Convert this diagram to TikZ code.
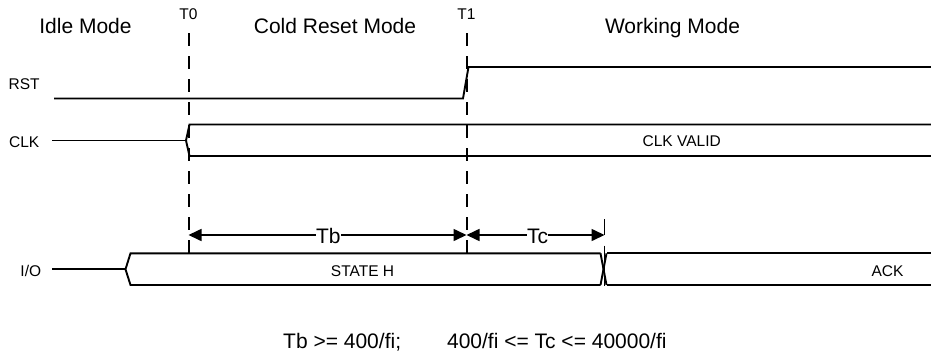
\documentclass[tikz,border=0pt]{standalone}
\usepackage{fontspec}
\setmainfont{Liberation Sans}[Ligatures=NoCommon]
\usetikzlibrary{arrows.meta}
\begin{document}
\begin{tikzpicture}[x=1pt,y=-1pt,
  sig/.style={line width=1.9pt, line join=miter},
  gridline/.style={line width=2pt, dash pattern=on 13pt off 10pt},
  dimline/.style={line width=1.6pt, {Triangle[length=13pt,width=12pt]}-{Triangle[length=13pt,width=12pt]}},
  title/.style={font=\fontsize{21}{25}\selectfont, anchor=base, inner sep=0pt},
  lbl/.style={font=\fontsize{15.5}{18}\selectfont, anchor=base, inner sep=0pt},
  dimlbl/.style={font=\fontsize{21}{25}\selectfont, anchor=base, fill=white, inner xsep=0pt, inner ysep=0.5pt}
]
\useasboundingbox (0,0) rectangle (931,356);

% titles
\node[title] (idle) at (85.5,33.5) {Idle Mode};
\node[title] (cold) at (335,33.5) {Cold Reset Mode};
\node[title] (work) at (672.5,33.5) {Working Mode};
\node[lbl] (t0) at (188.5,19) {T0};
\node[lbl] (t1) at (466.5,19) {T1};

% signal names
\node[lbl] (rst) at (24.2,89.3) {RST};
\node[lbl] (clk) at (24.2,147.5) {CLK};
\node[lbl] (io) at (30.8,276.5) {I/O};

% key coordinates
\coordinate (T0top) at (188.5,33);
\coordinate (T0bot) at (188.5,253.3);
\coordinate (T1top) at (466.5,33);
\coordinate (T1bot) at (466.5,253.3);
\coordinate (Tcend) at (604.5,235);
\coordinate (Tbstart) at (188.5,235);
\coordinate (Tmid) at (466.5,235);

% dashed time markers
\draw[gridline] (T0top) -- (T0bot);
\draw[gridline] (T1top) -- (T1bot);

% RST
\coordinate (rstA) at (54,98.5);
\coordinate (rstB) at (463,98.5);
\coordinate (rstC) at (468.5,67);
\coordinate (rstD) at (931,67);
\draw[sig] (rstA) -- (rstB) -- (rstC) -- (rstD);

% CLK
\coordinate (clkA) at (52,140.5);
\coordinate (clkP) at (186,140.5);
\coordinate (clkT) at (189.5,124.5);
\coordinate (clkB) at (189.5,156);
\coordinate (clkTR) at (931,124.5);
\coordinate (clkBR) at (931,156);
\draw[sig] (clkA) -- (clkP);
\draw[sig] (clkTR) -- (clkT) -- (clkP) -- (clkB) -- (clkBR);
\node[lbl] (clkvalid) at (681.7,146.5) {CLK VALID};

% I/O
\coordinate (ioA) at (52,269.3);
\coordinate (ioP) at (125.5,269.3);
\coordinate (ioT) at (130.5,253.3);
\coordinate (ioB) at (130.5,285);
\coordinate (xTL) at (600.5,253.3);
\coordinate (xBL) at (600.5,285);
\coordinate (xTR) at (606.5,253.3);
\coordinate (xBR) at (606.5,285);
\coordinate (ioTR) at (931,253.3);
\coordinate (ioBR) at (931,285);
\draw[sig] (ioA) -- (ioP);
\draw[sig] (xTL) -- (ioT) -- (ioP) -- (ioB) -- (xBL);
\draw[sig] (xTL) -- (xBR);
\draw[sig] (xBL) -- (xTR);
\draw[sig] (ioTR) -- (xTR);
\draw[sig] (ioBR) -- (xBR);
\node[lbl] (stateh) at (362.5,276.5) {STATE H};
\node[lbl] (ack) at (887.5,276.5) {ACK};

% Tc end marker
\coordinate (mk1) at (604.5,219);
\coordinate (mk2) at (604.5,235);
\coordinate (mk3) at (604.5,245.5);
\coordinate (mk4) at (604.5,285.5);
\draw[line width=1.8pt] (mk1) -- (mk2);
\draw[line width=1.5pt] (mk3) -- (mk4);

% dimension arrows
\draw[dimline] (Tbstart) -- (Tmid);
\draw[dimline] (Tmid) -- (Tcend);
\node[dimlbl] (tb) at (328.3,243.3) {Tb};
\node[dimlbl] (tc) at (537.5,243.3) {Tc};

% formula
\node[title, anchor=base west] (formula) at (283,348) {Tb >= 400/fi;\hspace{46pt}400/fi <= Tc <= 40000/fi};
\end{tikzpicture}
\end{document}
